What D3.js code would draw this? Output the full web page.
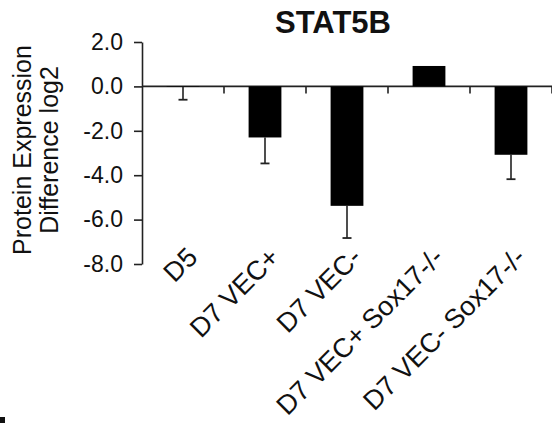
<!DOCTYPE html>
<html>
<head>
<meta charset="utf-8">
<script src="https://cdn.jsdelivr.net/npm/d3@7"></script>
<style>
  body { margin: 0; background: #fff; }
  svg { display: block; font-family: Arial, "Liberation Sans", sans-serif; }
</style>
</head>
<body>
<svg id="chart" width="552" height="423"></svg>
<script>
// data
const categories = ["D5", "D7 VEC+", "D7 VEC-", "D7 VEC+ Sox17-/-", "D7 VEC- Sox17-/-"];
const values = [-0.02, -2.3, -5.38, 0.92, -3.08];
const errors = [0.58, 1.17, 1.45, 0, 1.1];
const yTicks = [2, 0, -2, -4, -6, -8];

const svg = d3.select("#chart");
const ink = "#222";

const x = d3.scaleBand()
    .domain(categories)
    .range([142, 552])
    .paddingInner(0.6)
    .paddingOuter(0.3);

const y = d3.scaleLinear()
    .domain([-8, 2])
    .range([264, 42]);

// y axis
const yAxis = svg.append("g")
    .attr("transform", "translate(142,0)")
    .call(d3.axisLeft(y).tickValues(yTicks).tickSize(8).tickSizeOuter(0).tickPadding(11));
yAxis.select(".domain").attr("stroke", ink).attr("stroke-width", 1.6);
yAxis.selectAll(".tick line").attr("stroke", ink).attr("stroke-width", 1.6);
yAxis.selectAll(".tick text")
    .attr("fill", "#111")
    .style("font-size", "23px")
    .text(d => d3.format(".1f")(d).replace("−", "-"));

// zero line with category boundary ticks
svg.append("line")
    .attr("x1", 142).attr("x2", 552)
    .attr("y1", y(0)).attr("y2", y(0))
    .attr("stroke", ink).attr("stroke-width", 1.8);

svg.selectAll(".sep")
    .data(categories)
    .enter().append("line")
    .attr("class", "sep")
    .attr("x1", d => x(d) + x.bandwidth() / 2 + x.step() / 2)
    .attr("x2", d => x(d) + x.bandwidth() / 2 + x.step() / 2)
    .attr("y1", y(0))
    .attr("y2", y(0) + 7)
    .attr("stroke", ink).attr("stroke-width", 1.6);

const data = categories.map((c, i) => ({ name: c, value: values[i], err: errors[i] }));

// error bars (drawn away from zero)
const eb = svg.selectAll(".err")
    .data(data.filter(d => d.err > 0))
    .enter().append("g")
    .attr("class", "err");

eb.append("line")
    .attr("x1", d => x(d.name) + x.bandwidth() / 2)
    .attr("x2", d => x(d.name) + x.bandwidth() / 2)
    .attr("y1", d => y(d.value))
    .attr("y2", d => y(d.value - d.err))
    .attr("stroke", ink).attr("stroke-width", 1.6);

eb.append("line")
    .attr("x1", d => x(d.name) + x.bandwidth() / 2 - 4.5)
    .attr("x2", d => x(d.name) + x.bandwidth() / 2 + 4.5)
    .attr("y1", d => y(d.value - d.err))
    .attr("y2", d => y(d.value - d.err))
    .attr("stroke", ink).attr("stroke-width", 1.8);

// bars
svg.selectAll(".bar")
    .data(data)
    .enter().append("rect")
    .attr("class", "bar")
    .attr("x", d => x(d.name))
    .attr("width", x.bandwidth())
    .attr("y", d => y(Math.max(0, d.value)))
    .attr("height", d => Math.abs(y(d.value) - y(0)))
    .attr("fill", "#000");

// category labels
svg.selectAll(".xlab")
    .data(categories)
    .enter().append("text")
    .attr("class", "xlab")
    .attr("transform", d => `translate(${x(d) + x.bandwidth() / 2 + 16},259) rotate(-45)`)
    .attr("text-anchor", "end")
    .attr("fill", "#111")
    .style("font-size", "27px")
    .text(d => d);

// y axis title
const yTitle = svg.append("text")
    .attr("transform", "translate(31,150) rotate(-90)")
    .attr("text-anchor", "middle")
    .attr("fill", "#111")
    .style("font-size", "25px");
yTitle.append("tspan").attr("x", 0).attr("dy", 0).text("Protein Expression");
yTitle.append("tspan").attr("x", 0).attr("dy", 27).text("Difference log2");

// title
svg.append("text")
    .attr("x", 333)
    .attr("y", 33)
    .attr("text-anchor", "middle")
    .attr("fill", "#111")
    .style("font-size", "31px")
    .style("font-weight", "bold")
    .text("STAT5B");

// cut-off fragment from neighbouring panel
svg.append("rect")
    .attr("x", 0).attr("y", 417)
    .attr("width", 5).attr("height", 6)
    .attr("fill", "#111");
</script>
</body>
</html>
